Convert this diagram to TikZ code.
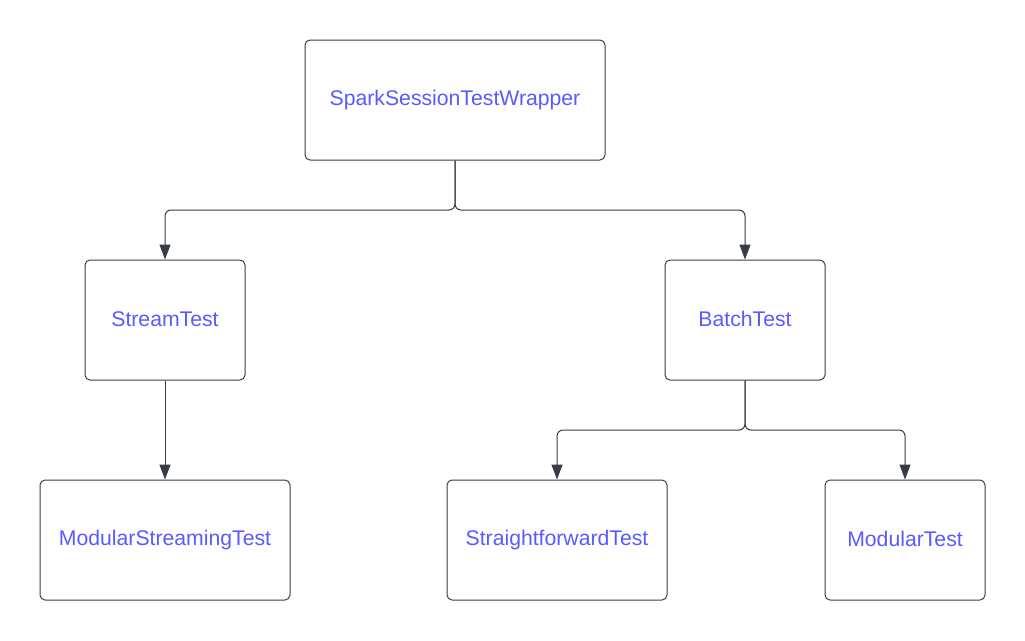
\documentclass[tikz,border=0pt]{standalone}
\usepackage{fontspec}
\setmainfont{Liberation Sans}
\usetikzlibrary{arrows.meta}
\definecolor{txtblue}{RGB}{90,90,255}
\definecolor{boxline}{RGB}{60,62,68}
\definecolor{conncol}{RGB}{55,60,70}
\tikzset{
  box/.style={draw=boxline, line width=1pt, rounded corners=5pt, fill=white,
    text=txtblue, font=\fontsize{21.2}{25}\selectfont, inner sep=0pt, anchor=center},
  conn/.style={draw=conncol, line width=1pt, rounded corners=6pt,
    -{Triangle[length=15pt,width=11pt]}}
}
\begin{document}
\begin{tikzpicture}[x=1pt,y=-1pt]
\useasboundingbox (0,0) rectangle (1025,640);
\fill[white] (0,0) rectangle (1025,640);
\node[box, minimum width=300pt, minimum height=120pt] (top) at (455,100) {\raisebox{1.5pt}{SparkSessionTestWrapper}};
\node[box, minimum width=160pt, minimum height=120pt] (stream) at (165,320) {\raisebox{1.5pt}{StreamTest}};
\node[box, minimum width=160pt, minimum height=120pt] (batch) at (745,320) {\raisebox{1.5pt}{BatchTest}};
\node[box, minimum width=250pt, minimum height=120pt] (mst) at (165,540) {\raisebox{1.5pt}{ModularStreamingTest}};
\node[box, minimum width=220pt, minimum height=120pt] (sft) at (557,540) {\raisebox{1.5pt}{StraightforwardTest}};
\node[box, minimum width=160pt, minimum height=120pt] (mt) at (905,540) {\raisebox{1.5pt}{ModularTest}};
\coordinate (j1) at (455,210);
\coordinate (j2) at (745,430);
\draw[conn] (top.south) -- (j1) -| (stream.north);
\draw[conn] (top.south) -- (j1) -| (batch.north);
\draw[conn] (stream.south) -- (mst.north);
\draw[conn] (batch.south) -- (j2) -| (sft.north);
\draw[conn] (batch.south) -- (j2) -| (mt.north);
\end{tikzpicture}
\end{document}
